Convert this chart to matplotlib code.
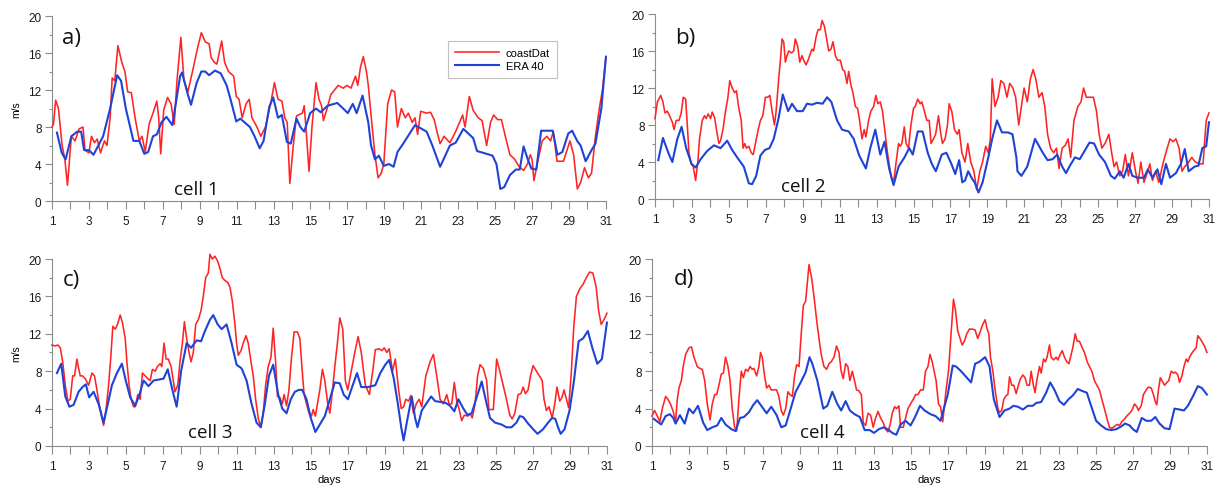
import matplotlib.pyplot as plt
from matplotlib.ticker import MultipleLocator

plt.rcParams['font.family'] = ['Liberation Sans', 'DejaVu Sans']

# ---- cell 1 ----
a_red_day = [1.0, 1.08, 1.2, 1.35, 1.55, 1.7, 1.84, 2.05, 2.25, 2.47,
             2.68, 2.79, 3.0, 3.14, 3.3, 3.45, 3.63, 3.84, 3.98, 4.15,
             4.26, 4.4, 4.57, 4.78, 4.95, 5.1, 5.3, 5.5, 5.73, 5.88,
             6.05, 6.26, 6.47, 6.68, 6.78, 6.89, 7.05, 7.26, 7.45, 7.62,
             7.77, 7.98, 8.15, 8.36, 8.61, 8.88, 9.09, 9.3, 9.51, 9.62,
             9.79, 9.93, 10.19, 10.35, 10.56, 10.84, 10.98, 11.13, 11.3, 11.51,
             11.68, 11.83, 12.1, 12.31, 12.56, 12.84, 13.05, 13.24, 13.45, 13.61,
             13.74, 13.88, 14.07, 14.24, 14.56, 14.66, 14.77, 14.92, 15.08, 15.3,
             15.46, 15.6, 15.7, 15.9, 16.1, 16.3, 16.5, 16.77, 16.98, 17.19,
             17.44, 17.56, 17.71, 17.86, 18.03, 18.13, 18.34, 18.49, 18.66, 18.83,
             18.97, 19.18, 19.39, 19.56, 19.71, 19.92, 20.13, 20.3, 20.51, 20.66,
             20.8, 20.97, 21.29, 21.5, 21.7, 21.85, 22.02, 22.23, 22.55, 22.86,
             23.07, 23.24, 23.37, 23.6, 23.81, 24.08, 24.29, 24.54, 24.75, 24.92,
             25.13, 25.34, 25.55, 25.8, 26.06, 26.27, 26.54, 26.75, 26.9, 27.0,
             27.1, 27.3, 27.55, 27.8, 28.0, 28.15, 28.35, 28.7, 29.05, 29.25,
             29.45, 29.63, 29.84, 30.05, 30.22, 30.43, 30.64, 30.81, 31.0]
a_red_ms = [8.0, 8.3, 10.9, 10.0, 6.0, 4.5, 1.7, 7.0, 6.5, 7.8,
            8.0, 5.5, 5.2, 7.0, 6.3, 6.7, 5.2, 6.5, 6.0, 9.0,
            13.3, 13.0, 16.8, 15.0, 14.0, 11.8, 11.7, 9.0, 6.5, 7.0,
            5.3, 8.3, 9.5, 10.8, 9.0, 5.1, 9.8, 11.2, 10.5, 8.3,
            13.0, 17.7, 13.0, 11.8, 14.0, 16.5, 18.2, 17.2, 17.0, 15.5,
            15.0, 14.8, 17.3, 15.0, 14.0, 13.5, 11.3, 11.0, 9.0, 10.5,
            11.0, 9.0, 8.0, 7.0, 8.0, 10.5, 12.8, 11.0, 10.8, 9.0,
            8.5, 1.9, 6.0, 9.2, 9.5, 10.3, 7.5, 3.2, 8.0, 12.8,
            11.0, 10.3, 8.7, 10.0, 11.5, 12.0, 12.5, 12.2, 12.5, 12.2,
            13.5, 12.5, 14.5, 15.6, 14.0, 12.5, 8.0, 5.0, 2.5, 3.0,
            4.0, 10.5, 12.0, 11.8, 8.0, 10.0, 9.0, 9.5, 8.5, 9.0,
            7.2, 9.7, 9.5, 9.6, 8.8, 7.5, 6.2, 7.0, 6.3, 7.5,
            8.5, 9.3, 8.0, 11.3, 9.8, 9.0, 8.7, 6.0, 8.5, 9.3,
            8.8, 8.8, 7.0, 5.0, 4.5, 3.8, 3.3, 4.0, 5.0, 4.5,
            2.2, 4.2, 6.5, 7.0, 6.5, 7.5, 4.3, 4.3, 6.5, 5.0,
            1.3, 2.0, 3.6, 2.5, 3.0, 7.0, 10.0, 12.0, 15.6]
a_blue_day = [1.27, 1.53, 1.74, 2.05, 2.37, 2.58, 2.74, 3.0, 3.25, 3.77,
              4.15, 4.53, 4.74, 5.0, 5.41, 5.73, 6.0, 6.21, 6.47, 6.68,
              6.93, 7.2, 7.52, 7.94, 8.04, 8.36, 8.53, 8.84, 9.09, 9.3,
              9.51, 9.83, 10.14, 10.46, 10.67, 10.98, 11.2, 11.72, 11.97, 12.25,
              12.46, 12.77, 12.98, 13.24, 13.45, 13.72, 13.93, 14.24, 14.45, 14.66,
              14.98, 15.3, 15.55, 15.93, 16.45, 16.77, 17.02, 17.29, 17.5, 17.82,
              18.13, 18.28, 18.49, 18.7, 18.97, 19.25, 19.5, 19.71, 20.02, 20.66,
              21.29, 21.6, 22.02, 22.55, 22.86, 23.28, 23.81, 24.02, 24.54, 24.86,
              25.07, 25.28, 25.49, 25.8, 26.12, 26.33, 26.54, 26.75, 26.96, 27.23,
              27.49, 28.12, 28.37, 28.64, 28.96, 29.17, 29.44, 29.63, 29.9, 30.22,
              30.43, 30.75, 31.0]
a_blue_ms = [7.4, 5.2, 4.5, 7.0, 7.5, 7.5, 5.5, 5.5, 5.0, 7.0,
             10.0, 13.6, 13.0, 10.0, 6.5, 6.5, 5.1, 5.3, 7.0, 7.2,
             8.5, 9.1, 8.2, 13.5, 13.9, 11.5, 10.4, 12.8, 14.0, 14.0,
             13.6, 14.1, 13.8, 12.5, 11.0, 8.6, 8.9, 8.0, 7.0, 5.7,
             6.5, 10.2, 11.2, 9.0, 9.3, 6.4, 6.2, 8.9, 8.0, 7.5,
             9.5, 10.0, 9.6, 10.3, 10.6, 10.0, 9.5, 10.5, 9.5, 11.4,
             8.5, 6.0, 4.5, 4.9, 3.8, 4.0, 3.7, 5.3, 6.2, 8.2,
             7.5, 6.0, 3.7, 6.0, 6.3, 7.8, 6.8, 5.4, 5.1, 4.9,
             4.0, 1.3, 1.5, 2.8, 3.4, 3.4, 5.9, 4.6, 3.5, 3.4,
             7.6, 7.6, 5.0, 5.3, 7.3, 7.6, 6.5, 6.0, 4.3, 5.5,
             6.2, 10.0, 15.6]

# ---- cell 2 ----
b_red_day = [1.0, 1.13, 1.31, 1.43, 1.54, 1.67, 1.79, 1.94, 2.03, 2.15,
             2.3, 2.42, 2.53, 2.66, 2.75, 2.84, 2.96, 3.07, 3.2, 3.32,
             3.41, 3.56, 3.68, 3.77, 3.88, 4.01, 4.1, 4.23, 4.33, 4.46,
             4.55, 4.68, 4.82, 4.95, 5.05, 5.18, 5.31, 5.41, 5.54, 5.67,
             5.77, 5.86, 5.95, 6.08, 6.21, 6.32, 6.44, 6.59, 6.71, 6.84,
             6.98, 7.11, 7.22, 7.34, 7.47, 7.56, 7.7, 7.79, 7.88, 7.97,
             8.06, 8.15, 8.24, 8.39, 8.51, 8.6, 8.73, 8.84, 8.96, 9.05,
             9.18, 9.29, 9.38, 9.5, 9.59, 9.72, 9.83, 9.95, 10.05, 10.17,
             10.28, 10.41, 10.53, 10.64, 10.77, 10.89, 11.04, 11.16, 11.27, 11.4,
             11.49, 11.61, 11.72, 11.85, 11.97, 12.08, 12.21, 12.33, 12.42, 12.57,
             12.69, 12.84, 12.96, 13.07, 13.2, 13.32, 13.47, 13.59, 13.74, 13.83,
             13.95, 14.06, 14.19, 14.28, 14.37, 14.5, 14.6, 14.73, 14.86, 15.0,
             15.09, 15.23, 15.36, 15.45, 15.59, 15.72, 15.85, 15.95, 16.08, 16.2,
             16.35, 16.48, 16.57, 16.71, 16.84, 16.93,
             17.07, 17.22, 17.37, 17.47, 17.62, 17.79, 17.94, 18.1, 18.27, 18.42,
             18.59, 18.74, 18.91, 19.05, 19.16, 19.26, 19.41, 19.58, 19.73, 19.89,
             20.06, 20.21, 20.38, 20.53, 20.7, 20.84, 20.99, 21.16, 21.33, 21.48,
             21.62, 21.79, 21.96, 22.11, 22.26, 22.42, 22.59, 22.74, 22.88, 23.05,
             23.22, 23.37, 23.51, 23.69, 23.9, 24.07, 24.21, 24.36, 24.53, 24.74,
             24.91, 25.05, 25.2, 25.37, 25.58, 25.73, 25.86, 26.0, 26.17, 26.32,
             26.47, 26.64, 26.85, 27.02, 27.16, 27.31, 27.48, 27.65, 27.8, 27.94,
             28.11, 28.28, 28.53, 28.74, 28.89, 29.06, 29.21, 29.38, 29.54, 29.69,
             29.9, 30.07, 30.26, 30.47, 30.68, 30.85, 31.0]
b_red_ms = [8.7, 10.5, 11.2, 10.5, 9.3, 9.5, 9.0, 8.3, 7.5, 8.5,
            8.5, 9.3, 11.0, 10.8, 8.0, 5.0, 3.8, 3.5, 2.0, 4.0,
            6.5, 8.5, 9.0, 8.7, 9.2, 8.7, 9.4, 8.8, 7.5, 6.0,
            6.3, 7.5, 9.5, 11.0, 12.8, 12.0, 11.5, 11.7, 9.8, 8.5,
            5.5, 6.0, 5.5, 5.7, 5.0, 4.8, 6.0, 7.5, 8.5, 9.0,
            11.0, 11.0, 11.2, 9.5, 8.0, 9.5, 13.0, 15.0, 17.3, 17.0,
            14.8, 15.5, 16.0, 15.8, 16.0, 17.3, 16.5, 14.8, 15.5, 15.0,
            14.5, 15.0, 15.5, 16.2, 16.0, 17.5, 18.3, 18.3, 19.3, 18.7,
            17.5, 16.0, 16.2, 17.0, 15.5, 15.0, 15.0, 14.0, 13.8, 12.5,
            13.8, 12.3, 11.5, 10.0, 9.8, 8.5, 6.5, 7.5, 6.7, 8.5,
            9.5, 10.0, 11.2, 10.3, 10.5, 9.5, 7.0, 5.0, 3.0, 2.0,
            2.2, 4.0, 6.0, 5.7, 6.0, 7.8, 6.0, 5.5, 8.0, 9.8,
            10.0, 10.8, 10.3, 10.5, 9.5, 8.5, 8.5, 6.0, 6.5, 7.0,
            9.0, 7.0, 6.0, 6.5, 8.0, 10.3,
            9.5, 7.5, 7.0, 7.5, 5.0, 4.0, 6.0, 4.0, 3.0, 1.0,
            3.0, 4.0, 5.7, 5.0, 6.5, 13.0, 10.0, 11.0, 12.8, 12.5,
            11.0, 12.5, 12.0, 11.0, 8.0, 10.0, 12.0, 10.5, 13.0, 14.0,
            13.0, 11.0, 11.5, 10.0, 7.0, 5.5, 5.0, 5.5, 3.3, 5.5,
            5.8, 6.5, 4.5, 8.5, 10.0, 10.5, 12.0, 11.0, 11.0, 11.0,
            9.5, 7.0, 5.5, 6.0, 7.0, 5.0, 3.5, 4.0, 2.5, 3.0,
            4.8, 2.5, 5.0, 3.0, 1.7, 4.0, 1.8, 2.8, 3.8, 2.0,
            3.0, 1.8, 4.0, 5.5, 6.5, 6.2, 6.5, 5.5, 3.0, 3.5,
            4.0, 4.5, 4.0, 3.8, 3.8, 8.5, 9.3]
b_blue_day = [1.18, 1.43, 1.72, 1.94, 2.21, 2.44, 2.69, 2.98, 3.2, 3.47,
              3.83, 4.19, 4.55, 4.91, 5.18, 5.45, 5.81, 6.08, 6.26, 6.48,
              6.71, 6.95, 7.2, 7.43, 7.7, 7.92, 8.21, 8.42, 8.69, 9.0,
              9.23, 9.5, 9.77, 10.08, 10.32, 10.55, 10.86, 11.13, 11.49, 11.76,
              12.06, 12.42, 12.66, 12.93, 13.2, 13.43, 13.68, 13.92, 14.19, 14.51,
              14.77, 14.96, 15.23, 15.49, 15.77, 15.99, 16.21, 16.53,
              16.78, 17.05, 17.26, 17.47, 17.64, 17.79, 17.96, 18.17, 18.31, 18.52,
              18.74, 19.05, 19.26, 19.52, 19.79, 20.11, 20.36, 20.57, 20.63, 20.84,
              21.16, 21.58, 22.0, 22.26, 22.53, 22.78, 23.05, 23.26, 23.47, 23.74,
              24.0, 24.53, 24.78, 25.05, 25.37, 25.69, 25.9, 26.17, 26.38, 26.64,
              26.85, 27.16, 27.48, 27.69, 27.94, 28.21, 28.42, 28.67, 28.89, 29.21,
              29.48, 29.69, 29.9, 30.22, 30.43, 30.64, 30.85, 31.0]
b_blue_ms = [4.2, 6.6, 5.0, 4.0, 6.5, 7.8, 5.5, 3.8, 3.4, 4.3,
             5.2, 5.8, 5.5, 6.3, 5.3, 4.5, 3.5, 1.7, 1.6, 2.5,
             4.7, 5.3, 5.5, 6.5, 8.8, 11.3, 9.5, 10.3, 9.5, 9.5,
             10.3, 10.2, 10.4, 10.3, 11.0, 10.5, 8.5, 7.5, 7.3, 6.5,
             4.7, 3.3, 5.5, 7.5, 4.8, 6.2, 3.3, 1.5, 3.5, 4.5,
             5.5, 4.8, 7.3, 7.3, 5.0, 3.8, 3.0, 4.8,
             5.0, 3.8, 2.7, 4.2, 1.8, 2.0, 3.0, 2.2, 1.8, 0.7,
             1.8, 4.5, 6.5, 8.5, 7.2, 7.2, 7.0, 4.5, 3.0, 2.5,
             3.5, 6.5, 5.0, 4.2, 4.3, 4.8, 3.5, 2.8, 3.6, 4.5,
             4.3, 6.1, 6.0, 4.8, 4.0, 2.5, 2.2, 3.0, 2.3, 3.8,
             2.5, 2.3, 2.3, 3.2, 2.3, 3.2, 1.6, 3.8, 2.3, 2.8,
             3.8, 5.4, 3.0, 3.5, 3.6, 5.5, 5.7, 8.3]

# ---- cell 3 ----
c_red_day = [1.0, 1.18, 1.32, 1.45, 1.58, 1.72, 1.86, 1.99, 2.12, 2.22,
             2.35, 2.44, 2.53, 2.65, 2.8, 2.98, 3.16, 3.3, 3.43, 3.55,
             3.7, 3.79, 3.93, 4.06, 4.18, 4.29, 4.42, 4.54, 4.69, 4.81,
             4.96, 5.05, 5.17, 5.28, 5.41, 5.5, 5.64, 5.77, 5.89, 6.04,
             6.18, 6.31, 6.43, 6.58, 6.7, 6.85, 6.94, 7.06, 7.17, 7.29,
             7.44, 7.56, 7.65, 7.8, 7.92, 8.05, 8.16, 8.28, 8.41, 8.52,
             8.64, 8.77, 8.91, 9.06, 9.18, 9.31, 9.45, 9.54, 9.67, 9.81,
             9.95, 10.08, 10.21, 10.35, 10.5, 10.62, 10.75, 10.89, 10.98, 11.07,
             11.22, 11.34, 11.49, 11.61, 11.76, 11.88, 12.01, 12.15, 12.29, 12.42,
             12.55, 12.69, 12.84, 12.96, 13.09, 13.19, 13.32, 13.45, 13.55, 13.68,
             13.81, 13.95, 14.09, 14.27, 14.4, 14.53, 14.63, 14.76, 14.9, 15.03,
             15.12, 15.24, 15.35, 15.48, 15.62, 15.75, 15.89, 16.02, 16.14, 16.29,
             16.43, 16.56,
             16.72, 16.86, 16.99, 17.13, 17.37, 17.55, 17.72, 17.94, 18.16, 18.34,
             18.48, 18.69, 18.84, 18.96, 19.1, 19.23, 19.41, 19.56, 19.74, 19.88,
             20.01, 20.13, 20.28, 20.4, 20.54, 20.69, 20.85, 20.99, 21.21, 21.44,
             21.62, 21.8, 21.98, 22.16, 22.34, 22.47, 22.61, 22.75, 22.88, 23.0,
             23.15, 23.29, 23.47, 23.6, 23.72, 23.87, 24.01, 24.14, 24.32, 24.5,
             24.62, 24.86, 25.04, 25.21, 25.39, 25.57, 25.75, 25.88, 26.02, 26.2,
             26.35, 26.47, 26.6, 26.74, 26.87, 27.01, 27.19, 27.32, 27.5, 27.6,
             27.73, 27.87, 28.04, 28.18, 28.3, 28.45, 28.57, 28.68, 28.81, 28.93,
             29.08, 29.2, 29.35, 29.53, 29.71, 29.89, 30.06, 30.24, 30.42, 30.55,
             30.69, 30.84, 31.0]
c_red_ms = [10.8, 10.7, 10.8, 10.5, 9.0, 6.5, 4.8, 5.0, 7.5, 7.5,
            9.3, 8.3, 7.5, 7.5, 7.2, 6.5, 7.8, 7.5, 6.0, 4.5,
            3.0, 2.2, 4.0, 6.5, 9.5, 12.8, 12.5, 13.0, 14.0, 13.2,
            11.5, 9.0, 6.5, 5.0, 4.2, 4.2, 5.5, 5.0, 7.8, 7.5,
            7.2, 7.0, 8.2, 8.0, 8.5, 8.8, 8.5, 11.0, 9.3, 9.3,
            8.5, 7.0, 5.8, 6.5, 9.0, 11.0, 13.3, 11.5, 10.0, 9.0,
            10.0, 13.0, 13.5, 14.5, 16.0, 18.0, 18.5, 20.5, 20.0, 20.3,
            19.8, 19.0, 18.0, 17.7, 17.5, 17.0, 15.5, 13.0, 11.0, 9.7,
            10.2, 11.0, 11.8, 11.0, 9.0, 7.5, 5.0, 3.0, 2.0, 3.5,
            6.5, 8.5, 9.5, 12.6, 9.0, 5.3, 5.2, 4.5, 5.5, 4.3,
            6.0, 9.5, 12.2, 12.2, 11.5, 8.0, 5.5, 4.5, 3.5, 3.2,
            3.9, 3.2, 4.5, 6.0, 8.2, 7.0, 4.8, 3.5, 5.5, 8.5,
            11.0, 13.7,
            12.5, 7.0, 6.0, 7.5, 10.0, 11.7, 10.0, 6.5, 5.5, 8.0,
            10.3, 10.4, 10.2, 10.5, 10.0, 10.4, 8.0, 9.3, 6.0, 4.0,
            4.2, 5.0, 4.8, 5.4, 3.5, 4.5, 5.0, 4.2, 7.5, 9.0,
            9.8, 7.5, 5.0, 4.5, 5.5, 4.5, 4.5, 6.8, 4.8, 4.0,
            2.7, 3.3, 3.2, 3.5, 3.0, 4.5, 7.5, 8.7, 8.3, 7.0,
            3.9, 3.9, 9.3, 8.0, 6.5, 5.0, 3.3, 2.9, 3.5, 5.5,
            5.6, 6.3, 5.6, 6.0, 7.5, 8.6, 8.0, 7.6, 7.0, 5.0,
            3.8, 4.2, 3.0, 4.5, 6.3, 4.8, 5.2, 6.0, 5.0, 4.1,
            8.0, 12.5, 16.0, 16.8, 17.3, 18.0, 18.6, 18.5, 17.0, 14.5,
            13.0, 13.5, 14.2]
c_blue_day = [1.27, 1.5, 1.72, 1.94, 2.17, 2.44, 2.65, 2.83, 3.01, 3.25,
              3.52, 3.79, 4.02, 4.24, 4.51, 4.78, 4.99, 5.23, 5.5, 5.71,
              5.95, 6.22, 6.49, 6.76, 7.03, 7.26, 7.51, 7.74, 7.98, 8.28,
              8.52, 8.82, 9.06, 9.27, 9.54, 9.72, 9.96, 10.17, 10.44, 10.71,
              10.98, 11.25, 11.52, 11.79, 12.06, 12.29, 12.51, 12.73, 12.96, 13.23,
              13.45, 13.68, 13.91, 14.13, 14.35, 14.53, 14.76, 14.99, 15.24, 15.48,
              15.75, 16.02, 16.29, 16.56,
              16.77, 17.0, 17.26, 17.49, 17.72, 18.08, 18.48, 18.75, 19.02, 19.23,
              19.47, 19.7, 19.88, 20.01, 20.19, 20.45, 20.63, 20.76, 20.99, 21.26,
              21.5, 21.71, 22.04, 22.29, 22.52, 22.75, 22.97, 23.24, 23.47, 23.69,
              23.96, 24.23, 24.44, 24.68, 24.95, 25.3, 25.57, 25.84, 26.11, 26.29,
              26.47, 26.74, 27.01, 27.25, 27.55, 27.82, 28.04, 28.21, 28.36, 28.5,
              28.71, 28.98, 29.22, 29.47, 29.71, 29.97, 30.21, 30.48, 30.73, 31.0]
c_blue_ms = [7.8, 8.8, 5.3, 4.2, 4.4, 5.8, 6.3, 6.6, 5.2, 5.8,
             4.5, 2.5, 4.5, 6.5, 7.8, 8.8, 7.0, 5.2, 4.3, 5.4,
             7.0, 6.4, 7.0, 7.1, 7.2, 8.2, 6.0, 4.2, 8.0, 11.0,
             10.5, 11.3, 11.2, 12.3, 13.5, 14.0, 13.0, 12.5, 13.0, 11.0,
             8.7, 8.3, 7.0, 4.5, 2.5, 2.0, 4.5, 7.5, 8.7, 5.5,
             4.0, 3.5, 5.0, 5.8, 6.0, 6.0, 5.0, 3.0, 1.5, 2.3,
             3.2, 5.0, 6.8, 6.7,
             5.5, 5.0, 6.5, 7.8, 6.3, 6.3, 6.5, 7.8, 8.7, 9.2,
             7.3, 4.5, 2.0, 0.6, 2.6, 5.3, 3.0, 2.0, 3.8, 4.6,
             5.3, 4.8, 4.7, 4.6, 4.3, 3.7, 5.0, 4.0, 3.3, 3.5,
             5.2, 6.9, 5.0, 3.0, 2.5, 2.3, 2.0, 2.0, 2.5, 3.2,
             3.1, 2.4, 1.8, 1.3, 1.8, 2.5, 3.0, 2.9, 2.0, 1.3,
             1.8, 3.8, 7.0, 11.2, 11.5, 12.3, 10.5, 8.8, 9.3, 13.2]

# ---- cell 4 ----
d_red_day = [1.0, 1.14, 1.29, 1.43, 1.56, 1.74, 1.86, 2.0, 2.15, 2.28,
             2.37, 2.46, 2.59, 2.69, 2.82, 3.0, 3.14, 3.27, 3.45, 3.59,
             3.72, 3.85, 3.99, 4.14, 4.26, 4.39, 4.5, 4.62, 4.75, 4.86,
             4.98, 5.11, 5.22, 5.34, 5.47, 5.58, 5.7, 5.83, 5.94, 6.06,
             6.19, 6.3, 6.42, 6.51, 6.66, 6.78, 6.87, 6.96, 7.09, 7.2,
             7.32, 7.45, 7.59, 7.74, 7.86, 7.99, 8.1, 8.23, 8.35, 8.46,
             8.59, 8.71, 8.82, 8.95, 9.07, 9.18, 9.31, 9.4, 9.49, 9.63,
             9.76, 9.9, 10.03, 10.15, 10.3, 10.44, 10.57, 10.69, 10.84, 10.98,
             11.11, 11.23, 11.34, 11.47, 11.59, 11.7, 11.83, 11.95, 12.06, 12.19,
             12.32, 12.42, 12.55, 12.68, 12.82, 12.96, 13.09, 13.22, 13.36, 13.5,
             13.63, 13.76, 13.9, 13.99, 14.12, 14.23, 14.35, 14.44, 14.59, 14.71,
             14.84, 14.98, 15.13, 15.25, 15.38, 15.52, 15.67, 15.79, 15.92, 16.03,
             16.15,
             16.36, 16.49, 16.6, 16.72, 16.9, 17.03, 17.17, 17.3, 17.41, 17.53,
             17.66, 17.77, 17.89, 18.02, 18.16, 18.34, 18.47, 18.61, 18.74, 18.88,
             19.01, 19.12, 19.21, 19.3, 19.43, 19.55, 19.7, 19.79, 19.91, 20.02,
             20.15, 20.24, 20.33, 20.45, 20.56, 20.69, 20.81, 20.92, 21.05, 21.17,
             21.28, 21.41, 21.5, 21.62, 21.71, 21.82, 21.95, 22.04, 22.17, 22.27,
             22.36, 22.49, 22.58, 22.72, 22.85, 22.94, 23.07, 23.18, 23.3, 23.43,
             23.54, 23.66, 23.75, 23.88, 23.99, 24.11, 24.24, 24.38, 24.53, 24.65,
             24.78, 24.92, 25.05, 25.19, 25.32, 25.46, 25.59, 25.73, 25.86, 26.01,
             26.13, 26.28, 26.4, 26.55, 26.67, 26.82, 26.94, 27.09, 27.21, 27.3,
             27.45, 27.57, 27.72, 27.84, 27.99, 28.11, 28.2, 28.29, 28.38, 28.48,
             28.62, 28.71, 28.84, 28.94, 29.07, 29.2, 29.3, 29.43, 29.52, 29.65,
             29.76, 29.88, 29.97, 30.06, 30.21, 30.33, 30.42, 30.51, 30.66, 30.78,
             30.87, 31.0]
d_red_ms = [3.2, 3.8, 3.2, 2.6, 4.0, 5.3, 5.0, 4.5, 3.7, 2.6,
            5.0, 6.2, 7.0, 8.5, 9.8, 10.5, 10.6, 9.5, 8.5, 8.3,
            8.2, 7.0, 4.5, 2.8, 4.5, 5.5, 5.5, 6.5, 7.7, 7.8,
            9.5, 8.5, 7.0, 4.0, 2.0, 1.6, 5.0, 8.0, 7.3, 8.2,
            8.0, 8.5, 8.2, 8.3, 7.5, 8.5, 10.0, 9.5, 7.5, 6.2,
            6.5, 6.0, 6.0, 6.0, 5.3, 3.8, 3.3, 4.0, 5.8, 5.5,
            5.3, 7.5, 8.7, 8.5, 12.0, 15.0, 15.5, 17.5, 19.4, 18.0,
            16.0, 13.5, 11.5, 9.8, 8.5, 8.2, 8.8, 9.0, 9.5, 10.7,
            10.0, 8.0, 7.2, 8.8, 8.5, 7.0, 8.0, 7.0, 6.0, 5.9,
            5.5, 2.5, 2.2, 3.5, 3.3, 2.0, 3.0, 3.7, 3.0, 2.5,
            1.8, 1.5, 2.5, 3.5, 4.2, 4.0, 4.3, 2.0, 2.0, 3.0,
            4.0, 4.5, 5.0, 5.5, 5.5, 6.0, 6.0, 8.0, 8.5, 9.8,
            9.0,
            7.0, 4.5, 4.2, 2.6, 6.0, 8.0, 12.0, 15.7, 14.5, 12.3,
            11.5, 10.8, 11.2, 12.0, 12.5, 12.5, 12.4, 11.5, 12.2, 13.0,
            13.5, 12.5, 12.0, 9.5, 8.0, 6.0, 4.0, 3.6, 3.8, 5.0,
            5.4, 5.5, 7.4, 6.5, 6.5, 5.6, 6.5, 7.2, 7.6, 7.3,
            6.5, 6.5, 8.0, 6.5, 5.7, 7.2, 8.5, 7.8, 9.3, 9.0,
            9.5, 10.8, 9.5, 9.2, 9.5, 9.2, 9.8, 10.2, 9.5, 9.0,
            8.8, 9.8, 10.5, 12.0, 11.2, 11.2, 10.6, 10.0, 9.0, 8.5,
            8.0, 7.0, 6.5, 6.0, 5.0, 4.0, 3.0, 2.0, 1.9, 2.1,
            2.3, 2.2, 2.6, 2.9, 3.2, 3.5, 3.8, 4.5, 4.2, 3.8,
            4.3, 5.5, 6.0, 6.3, 6.2, 5.5, 4.8, 4.4, 6.0, 7.3,
            6.8, 6.5, 6.8, 7.0, 8.0, 7.8, 7.9, 7.6, 6.8, 7.5,
            8.5, 9.3, 9.0, 9.5, 10.0, 10.3, 10.5, 11.8, 11.4, 11.0,
            10.7, 10.0]
d_blue_day = [1.1, 1.5, 1.74, 1.97, 2.15, 2.28, 2.51, 2.77, 3.0, 3.23,
              3.49, 3.77, 3.99, 4.26, 4.53, 4.75, 4.98, 5.29, 5.52, 5.76,
              5.97, 6.24, 6.48, 6.69, 6.91, 7.2, 7.45, 7.74, 7.99, 8.23,
              8.5, 8.77, 9.04, 9.31, 9.52, 9.67, 9.94, 10.26, 10.48, 10.75,
              11.02, 11.23, 11.47, 11.7, 11.95, 12.24, 12.5, 12.78, 13.0, 13.27,
              13.54, 13.81, 13.99, 14.21, 14.44, 14.71, 14.98, 15.2, 15.49, 15.74,
              16.06, 16.33, 16.6,
              16.99, 17.26, 17.44, 17.71, 17.98, 18.25, 18.47, 18.7, 19.01, 19.25,
              19.48, 19.79, 20.06, 20.33, 20.54, 20.78, 21.05, 21.32, 21.59, 21.77,
              22.04, 22.31, 22.53, 22.76, 23.03, 23.27, 23.52, 23.75, 24.02, 24.24,
              24.51, 24.74, 25.01, 25.28, 25.56, 25.83, 26.1, 26.37, 26.58, 26.82,
              27.0, 27.21, 27.48, 27.72, 27.99, 28.21, 28.44, 28.71, 28.98, 29.25,
              29.52, 29.76, 29.97, 30.24, 30.51, 30.73, 31.0]
d_blue_ms = [2.9, 2.3, 3.2, 3.4, 3.0, 2.4, 3.3, 2.4, 4.0, 3.5,
             4.3, 2.5, 1.7, 2.0, 2.2, 3.0, 2.3, 1.8, 1.6, 3.0,
             3.1, 3.6, 4.4, 4.9, 4.3, 3.5, 4.2, 3.3, 2.0, 2.2,
             4.0, 5.8, 6.8, 7.9, 9.5, 8.8, 7.0, 4.0, 4.3, 5.8,
             4.5, 3.8, 4.8, 3.8, 3.4, 3.1, 1.7, 1.7, 1.4, 1.8,
             2.0, 1.7, 1.4, 1.2, 2.3, 2.7, 2.2, 3.0, 4.3, 3.8,
             3.4, 3.2, 2.7,
             5.5, 8.6, 8.5, 8.0, 7.4, 6.8, 8.8, 9.0, 9.5, 8.5,
             5.0, 3.1, 3.8, 4.0, 4.3, 4.2, 3.9, 4.3, 4.3, 4.6,
             4.7, 5.7, 6.8, 6.0, 4.8, 4.4, 5.0, 5.4, 6.1, 5.9,
             5.7, 4.3, 2.7, 2.2, 1.8, 1.7, 1.8, 2.1, 2.4, 2.2,
             1.8, 1.5, 3.0, 2.7, 2.7, 3.1, 2.4, 1.9, 1.8, 4.0,
             3.9, 3.8, 4.3, 5.3, 6.4, 6.2, 5.5]

days = list(range(1, 32))
day_labels = [str(d) if d % 2 else '' for d in days]

red = '#ff2424'
blue = '#1f43d6'
grey = '#8c8c8c'

fig = plt.figure(figsize=(12.17, 4.89), dpi=100)
ax_a = fig.add_axes([0.0427, 0.5869, 0.4552, 0.3783])
ax_b = fig.add_axes([0.5382, 0.5910, 0.4552, 0.3783])
ax_c = fig.add_axes([0.0427, 0.0859, 0.4560, 0.3824])
ax_d = fig.add_axes([0.5357, 0.0859, 0.4560, 0.3824])

panels = [
    (ax_a, a_red_day, a_red_ms, a_blue_day, a_blue_ms, 'a)', 'cell 1', (0.018, 0.855), (0.22, 0.04)),
    (ax_b, b_red_day, b_red_ms, b_blue_day, b_blue_ms, 'b)', 'cell 2', (0.036, 0.845), (0.228, 0.045)),
    (ax_c, c_red_day, c_red_ms, c_blue_day, c_blue_ms, 'c)', 'cell 3', (0.02, 0.86), (0.245, 0.05)),
    (ax_d, d_red_day, d_red_ms, d_blue_day, d_blue_ms, 'd)', 'cell 4', (0.04, 0.866), (0.267, 0.05)),
]

for ax, rd, rv, bd, bv, letter, cell, lpos, cpos in panels:
    ax.plot(rd, rv, color=red, lw=1.15, label='coastDat', clip_on=False, zorder=3)
    ax.plot(bd, bv, color=blue, lw=1.5, label='ERA 40', clip_on=False, zorder=4)
    ax.set_xlim(1, 31)
    ax.set_ylim(0, 20)
    ax.spines['top'].set_visible(False)
    ax.spines['right'].set_visible(False)
    for s in ['left', 'bottom']:
        ax.spines[s].set_color(grey)
        ax.spines[s].set_linewidth(0.8)
    ax.set_xticks(days)
    ax.set_xticklabels(day_labels)
    ax.set_yticks(range(0, 21, 4))
    ax.yaxis.set_minor_locator(MultipleLocator(2))
    ax.tick_params(axis='x', length=6, width=0.8, color=grey, pad=4,
                   labelsize=8.5, labelcolor='#1a1a1a')
    ax.tick_params(axis='y', which='major', length=5, width=0.8, color=grey,
                   pad=2.5, labelsize=8.5, labelcolor='#1a1a1a')
    ax.tick_params(axis='y', which='minor', length=2.5, width=0.8, color=grey)
    ax.text(lpos[0], lpos[1], letter, transform=ax.transAxes, fontsize=16,
            family=['Open Sans', 'DejaVu Sans'], color='#111111')
    ax.text(cpos[0], cpos[1], cell, transform=ax.transAxes, fontsize=13.5,
            family=['Open Sans', 'DejaVu Sans'], color='#111111')

for ax in (ax_a, ax_c):
    ax.set_ylabel('m/s', fontsize=7.5, labelpad=5)
for ax in (ax_c, ax_d):
    ax.set_xlabel('days', fontsize=8, labelpad=1.5)

leg = ax_a.legend(loc='upper left', bbox_to_anchor=(0.715, 0.865), fontsize=8,
                  handlelength=4.0, handletextpad=0.6, labelspacing=0.3,
                  borderpad=0.6, borderaxespad=0, frameon=True, fancybox=False,
                  edgecolor='#c0c0c0', framealpha=1)
leg.get_frame().set_linewidth(0.8)

fig.savefig('out.png', dpi=100)
